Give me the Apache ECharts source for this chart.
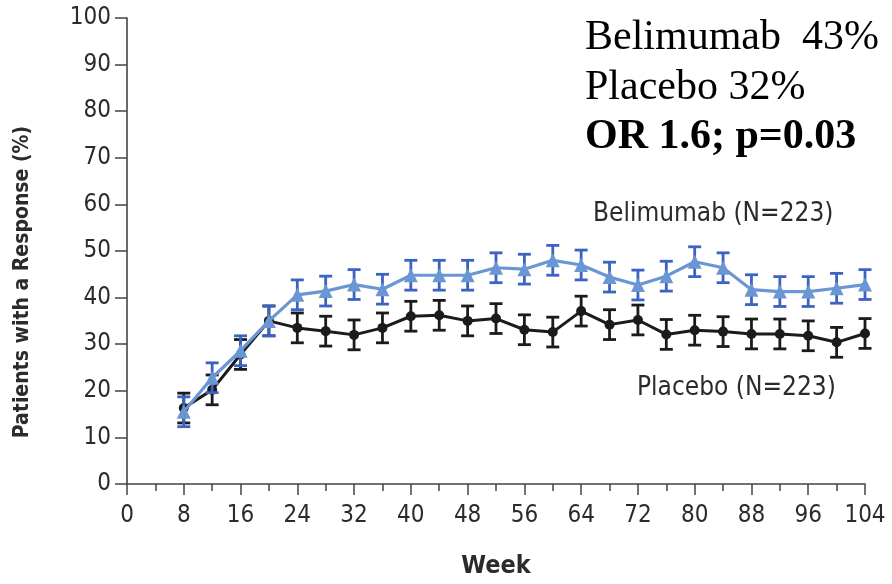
<!DOCTYPE html>
<html><head><meta charset="utf-8">
<script src="https://cdn.jsdelivr.net/npm/echarts@6/dist/echarts.min.js"></script>
<style>html,body{margin:0;padding:0;background:#fff}#c{width:892px;height:584px}</style>
</head><body><div id="c"></div>
<script>
const weeks = [8,12,16,20,24,28,32,36,40,44,48,52,56,60,64,68,72,76,80,84,88,92,96,100,104];
const belimumab = [15.5,22.8,28.6,35,40.6,41.4,42.8,41.8,44.8,44.8,44.8,46.4,46.1,48,47,44.4,42.7,44.6,47.7,46.4,41.7,41.3,41.3,42,42.8];
const placebo = [16.3,20.2,27.8,35,33.5,32.8,32,33.5,36,36.2,35,35.5,33.1,32.6,37.1,34.2,35.2,32.1,33,32.7,32.2,32.2,31.8,30.4,32.3];
const errHalf = 3.2;
const xTicks = [0,8,16,24,32,40,48,56,64,72,80,88,96,104];
const yTicks = [0,10,20,30,40,50,60,70,80,90,100];

const blueLine = '#6a97d4', blueBar = '#3c62c2', black = '#1b1b1b';
const axisFont = 'DejaVu Sans Condensed';
const txt = '#2b2b2b';

function errSeries(vals, color, z) {
  return {
    type: 'custom', z: z,
    data: weeks.map((w, i) => [w, vals[i] - errHalf, vals[i] + errHalf]),
    renderItem: function (params, api) {
      const x = api.value(0);
      const lo = api.coord([x, api.value(1)]);
      const hi = api.coord([x, api.value(2)]);
      const hw = 6.5;
      const st = { stroke: color, lineWidth: 2.8, fill: null };
      return { type: 'group', children: [
        { type: 'line', shape: { x1: lo[0], y1: lo[1], x2: hi[0], y2: hi[1] }, style: st },
        { type: 'line', shape: { x1: lo[0]-hw, y1: lo[1], x2: lo[0]+hw, y2: lo[1] }, style: st },
        { type: 'line', shape: { x1: hi[0]-hw, y1: hi[1], x2: hi[0]+hw, y2: hi[1] }, style: st }
      ]};
    },
    silent: true
  };
}

const chart = echarts.init(document.getElementById('c'), null, { renderer: 'canvas' });
chart.setOption({
  animation: false,
  backgroundColor: '#fff',
  grid: { left: 127, right: 27, top: 18, bottom: 97 },
  xAxis: {
    type: 'value', min: 0, max: 104, interval: 8,
    name: 'Week', nameLocation: 'middle', nameGap: 70,
    nameTextStyle: { fontFamily: axisFont, fontSize: 25, fontWeight: 'bold', color: txt },
    axisLine: { lineStyle: { color: '#444', width: 1.6 } },
    axisTick: { length: 11, lineStyle: { color: '#444', width: 1.5 } },
    minorTick: { show: true, splitNumber: 2, length: 7, lineStyle: { color: '#444', width: 1.5 } },
    axisLabel: { fontFamily: axisFont, fontSize: 24, color: txt, margin: 20,
      formatter: v => xTicks.includes(v) ? String(v) : '' },
    splitLine: { show: false }
  },
  yAxis: {
    type: 'value', min: 0, max: 100, interval: 10,
    axisLine: { show: true, lineStyle: { color: '#444', width: 1.6 } },
    axisTick: { show: true, length: 12, lineStyle: { color: '#444', width: 1.5 } },
    axisLabel: { fontFamily: axisFont, fontSize: 24, color: txt, margin: 16,
      formatter: v => yTicks.includes(v) ? String(v) : '' },
    splitLine: { show: false }
  },
  series: [
    errSeries(placebo, black, 2),
    {
      name: 'Placebo', type: 'line', z: 3,
      data: weeks.map((w, i) => [w, placebo[i]]),
      symbol: 'circle', symbolSize: 10,
      lineStyle: { color: black, width: 3 },
      itemStyle: { color: black }
    },
    errSeries(belimumab, blueBar, 4),
    {
      name: 'Belimumab', type: 'line', z: 5,
      data: weeks.map((w, i) => [w, belimumab[i]]),
      symbol: 'triangle', symbolSize: 14,
      lineStyle: { color: blueLine, width: 3.2 },
      itemStyle: { color: blueLine }
    }
  ],
  graphic: [
    { type: 'text', x: 23, y: 282, rotation: Math.PI / 2,
      style: { text: 'Patients with a Response (%)', font: 'bold 21px "DejaVu Sans Condensed"', fill: txt, align: 'center', verticalAlign: 'middle' } },
    { type: 'text', left: 585, top: 17, style: { text: 'Belimumab  43%', font: '42px "Liberation Serif"', fill: '#000' } },
    { type: 'text', left: 585, top: 67, style: { text: 'Placebo 32%', font: '42px "Liberation Serif"', fill: '#000' } },
    { type: 'text', left: 585, top: 116, style: { text: 'OR 1.6; p=0.03', font: 'bold 42px "Liberation Serif"', fill: '#000' } },
    { type: 'text', left: 593, top: 201, style: { text: 'Belimumab (N=223)', font: '26px "DejaVu Sans Condensed"', fill: txt } },
    { type: 'text', left: 637, top: 375, style: { text: 'Placebo (N=223)', font: '26px "DejaVu Sans Condensed"', fill: txt } }
  ]
});
</script>
</body></html>
